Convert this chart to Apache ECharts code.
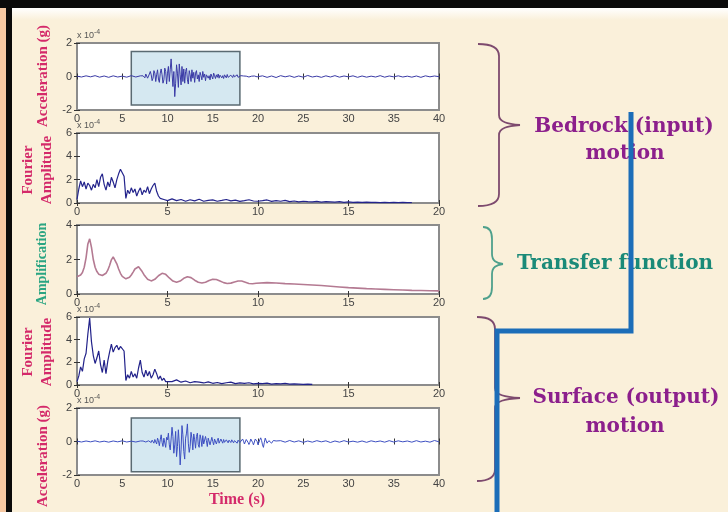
<!DOCTYPE html>
<html><head><meta charset="utf-8">
<script src="https://cdn.jsdelivr.net/npm/echarts@6/dist/echarts.min.js"></script>
<style>html,body{margin:0;padding:0;background:#faf0da}#c{width:728px;height:512px}</style>
</head><body><div id="c"></div><script>
// ---- Bedrock (input) acceleration, x1e-4 g ----
const rockAccPre = [0.02,-0.03,0.04,-0.02,0.05,-0.04,0.03,-0.05,0.04,-0.03,0.02,-0.04,0.05,-0.03,0.04]; // t = 0..7, step 0.5
const rockAccStrong = [ // t = 7.1..20.0, step 0.1
  0.02,-0.05,0.04,0.1,-0.08,0.15,0.25,-0.1,-0.2,0.15,
  0.3,0.1,-0.25,-0.1,0.35,0.2,-0.3,0.1,0.4,-0.15,
  -0.35,0.2,0.45,0.1,-0.4,-0.2,0.5,0.3,-0.45,0.2,
  0.6,-0.3,0.4,1.05,0.2,-0.6,0.3,-1.2,-0.4,0.7,
  0.2,-0.65,0.75,0.1,-0.5,0.6,-0.3,0.45,-0.4,0.3,
  0.5,-0.2,-0.45,0.35,0.1,-0.3,0.4,-0.1,0.25,-0.35,
  0.2,0.35,-0.15,0.1,-0.3,0.25,0.05,-0.2,0.3,-0.05,
  0.15,-0.25,0.1,0.2,-0.1,0.05,-0.2,0.15,0.1,-0.15,
  0.2,0.05,-0.12,0.1,-0.05,0.15,-0.1,0.08,0.12,-0.08,
  0.05,-0.12,0.1,0.02,-0.08,0.12,-0.05,0.06,-0.1,0.08,
  0.04,-0.06,0.1,-0.02,-0.08,0.06,0.1,-0.05,0.03,-0.06,
  0.05,0.08,-0.04,0.03,-0.07,0.05,0.02,-0.05,0.06,-0.03,
  0.04,-0.05,0.02,0.06,-0.04,0.03,-0.05,0.04,-0.02,0.03];
const rockAccTail = [ // t = 20.5..40, step 0.5
  0.04,-0.05,0.03,-0.06,0.05,-0.02,0.04,-0.05,0.03,-0.04,
  0.06,-0.03,0.02,-0.05,0.04,-0.03,0.05,-0.04,0.03,-0.02,
  0.04,-0.05,0.03,-0.04,0.02,-0.03,0.05,-0.04,0.03,-0.02,
  0.04,-0.03,0.02,-0.04,0.03,-0.05,0.04,-0.02,0.03,-0.01];

// ---- Bedrock Fourier amplitude, x1e-4 ----
const rockFALow = [ // f = 0..5 Hz, step 0.1
  0.3,1.2,1.9,1.4,1.8,1.2,1.7,1.5,1.1,1.6,
  1.3,2.0,1.4,2.2,2.5,1.6,1.1,1.8,1.4,2.2,
  1.8,1.3,2.0,2.5,2.9,2.6,2.3,0.4,1.1,0.8,
  1.3,0.9,1.2,0.6,1.0,1.3,0.7,1.1,0.9,1.4,
  0.8,1.2,1.5,1.7,1.0,0.6,0.4,0.5,0.3,0.35,0.2];
const rockFAHigh = [ // f = 5.25..18.5 Hz, step 0.25
  0.35,0.2,0.3,0.15,0.28,0.18,0.32,0.15,0.22,0.27,
  0.15,0.22,0.3,0.18,0.25,0.14,0.2,0.28,0.17,0.15,
  0.2,0.26,0.14,0.2,0.15,0.22,0.12,0.17,0.1,0.15,
  0.12,0.1,0.14,0.08,0.12,0.1,0.08,0.11,0.06,0.09,
  0.06,0.08,0.05,0.07,0.05,0.06,0.04,0.06,0.04,0.05,
  0.03,0.05,0.03,0.04];

// ---- Transfer function (amplification) ----
const ampLow = [ // f = 0..10 Hz, step 0.1
  1.0,1.02,1.1,1.25,1.55,2.1,2.9,3.2,2.7,2.0,
  1.55,1.3,1.15,1.08,1.07,1.1,1.2,1.38,1.65,1.98,
  2.15,2.05,1.75,1.45,1.2,1.02,0.92,0.88,0.9,0.97,
  1.1,1.27,1.45,1.56,1.58,1.48,1.3,1.12,0.98,0.86,
  0.79,0.76,0.78,0.85,0.95,1.06,1.15,1.2,1.2,1.14,
  1.04,0.93,0.83,0.75,0.7,0.68,0.7,0.75,0.83,0.91,
  0.97,1.0,0.99,0.95,0.88,0.8,0.73,0.68,0.65,0.64,
  0.65,0.68,0.73,0.78,0.82,0.85,0.86,0.84,0.8,0.75,
  0.7,0.66,0.63,0.61,0.61,0.63,0.66,0.7,0.73,0.75,
  0.76,0.75,0.72,0.68,0.64,0.61,0.59,0.59,0.6,0.62,0.64];
const ampHigh = [ // f = 10.5..20 Hz, step 0.5
  0.66,0.64,0.6,0.58,0.55,0.52,0.49,0.45,0.41,0.37,
  0.34,0.31,0.29,0.27,0.25,0.23,0.21,0.2,0.19,0.18];

// ---- Surface Fourier amplitude, x1e-4 ----
const surfFALow = [ // f = 0..5 Hz, step 0.1
  0.3,0.8,1.6,1.2,2.3,2.8,4.5,5.9,3.8,2.6,
  1.9,2.4,3.0,1.8,1.1,2.2,1.0,2.1,2.9,3.6,
  2.9,3.3,3.5,3.1,3.4,3.3,3.0,0.4,0.9,0.6,
  1.2,0.7,1.0,0.6,1.5,2.2,1.1,0.7,1.3,0.8,
  1.2,0.6,0.9,1.4,1.0,0.5,0.8,0.4,0.6,0.3,0.4];
const surfFAHigh = [ // f = 5.25..13 Hz, step 0.25
  0.3,0.45,0.25,0.35,0.2,0.3,0.25,0.18,0.28,0.15,
  0.22,0.12,0.2,0.25,0.12,0.18,0.14,0.2,0.1,0.15,
  0.12,0.16,0.08,0.12,0.1,0.14,0.07,0.1,0.08,0.06,
  0.08,0.05];

// ---- Surface (output) acceleration, x1e-4 g ----
const surfAccPre = [0.02,-0.03,0.03,-0.02,0.04,-0.03,0.02,-0.04,0.03,-0.02,0.04,-0.03,0.02,-0.03,0.03]; // t = 0..7, step 0.5
const surfAccStrong = [ // t = 7.1..22.0, step 0.1
  0.02,-0.02,0.03,-0.03,0.02,-0.03,0.03,-0.02,0.04,-0.03,
  0.05,-0.06,0.08,0.02,-0.1,0.12,0.05,-0.15,0.2,0.05,
  -0.25,0.1,0.4,-0.05,-0.3,0.2,0.1,-0.35,0.25,0.1,
  0.5,-0.2,-0.5,0.15,0.85,0.3,-0.7,-0.2,0.6,-0.9,
  -0.3,0.7,-0.1,-1.4,-0.5,0.95,0.4,-0.6,-1.05,0.2,
  0.5,1.05,-0.1,-0.65,-0.3,0.55,0.2,-0.5,0.45,0.1,
  -0.4,0.3,0.5,-0.2,-0.35,0.4,0.15,-0.3,0.35,-0.15,
  -0.25,0.3,0.05,-0.3,0.2,0.25,-0.2,-0.1,0.25,0.0,
  -0.2,0.15,0.1,-0.15,0.05,0.2,-0.1,-0.12,0.15,0.02,
  -0.1,0.12,-0.05,-0.1,0.1,0.04,-0.08,0.08,-0.02,-0.06,
  0.1,0.02,-0.08,0.05,0.12,-0.05,-0.1,0.08,0.1,-0.06,
  -0.12,0.05,0.15,0.02,-0.15,-0.05,0.12,0.15,-0.05,-0.18,
  -0.05,0.15,0.2,-0.05,-0.2,-0.1,0.15,0.2,0.0,-0.2,
  -0.15,0.1,0.22,0.05,-0.2,-0.35,-0.05,0.2,0.12,-0.1,
  -0.15,0.05,0.12,0.0,-0.1,-0.05,0.06,0.04,-0.04,0.03];
const surfAccTail = [ // t = 22.5..40, step 0.5
  0.05,-0.04,0.06,-0.03,0.04,-0.05,0.03,-0.04,0.05,-0.02,
  0.04,-0.06,0.03,-0.04,0.05,-0.03,0.02,-0.04,0.03,-0.05,
  0.04,-0.02,0.03,-0.04,0.05,-0.03,0.04,-0.02,0.03,-0.04,
  0.05,-0.03,0.02,-0.04,0.06,-0.02];

// Strong-motion windows: [tStart, tEnd, aLow, aHigh]
const rockWindow = [6, 18, -1.7, 1.5];
const surfWindow = [6, 18, -1.8, 1.4];

const yNames = ['Acceleration (g)', 'Fourier\nAmplitude', 'Amplification', 'Fourier\nAmplitude', 'Acceleration (g)'];

function pairs(t0, dt, vals) {
  return vals.map((v, i) => [+(t0 + i * dt).toFixed(2), v]);
}
const rockAcc = [...pairs(0, 0.5, rockAccPre), ...pairs(7.1, 0.1, rockAccStrong), ...pairs(20.5, 0.5, rockAccTail)];
const rockFA = [...pairs(0, 0.1, rockFALow), ...pairs(5.25, 0.25, rockFAHigh)];
const amp = [...pairs(0, 0.1, ampLow), ...pairs(10.5, 0.5, ampHigh)];
const surfFA = [...pairs(0, 0.1, surfFALow), ...pairs(5.25, 0.25, surfFAHigh)];
const surfAcc = [...pairs(0, 0.5, surfAccPre), ...pairs(7.1, 0.1, surfAccStrong), ...pairs(22.5, 0.5, surfAccTail)];

// Panel layout (pixels) and axis ranges
const panels = [
  { top: 43,  height: 67, xMax: 40, yMin: -2, yMax: 2, exp: true },
  { top: 133, height: 70, xMax: 20, yMin: 0,  yMax: 6, exp: true },
  { top: 225, height: 69, xMax: 20, yMin: 0,  yMax: 4, exp: false },
  { top: 317, height: 68, xMax: 20, yMin: 0,  yMax: 6, exp: true },
  { top: 408, height: 67, xMax: 40, yMin: -2, yMax: 2, exp: true }
];

const tickStyle = { show: true, inside: true, length: 3, lineStyle: { color: '#333', width: 1 } };
const labelStyle = { color: '#444', fontSize: 11, fontFamily: 'Liberation Sans' };

const grid = [], xAxis = [], yAxis = [];
panels.forEach((p, i) => {
  grid.push({ left: 77, width: 362, top: p.top, height: p.height, show: true,
    backgroundColor: '#ffffff', borderColor: '#8c8c8c', borderWidth: 2 });
  xAxis.push({ gridIndex: i, type: 'value', min: 0, max: p.xMax, interval: 5, position: 'bottom',
    axisLine: { show: false }, axisTick: tickStyle, splitLine: { show: false },
    axisLabel: Object.assign({ margin: 3 }, labelStyle) });
  xAxis.push({ gridIndex: i, type: 'value', min: 0, max: p.xMax, interval: 5, position: 'top',
    axisLine: { show: false }, axisTick: tickStyle, splitLine: { show: false }, axisLabel: { show: false } });
  yAxis.push({ gridIndex: i, type: 'value', min: p.yMin, max: p.yMax, interval: 2, position: 'left',
    axisLine: { show: false }, axisTick: tickStyle, splitLine: { show: false },
    axisLabel: Object.assign({ margin: 5 }, labelStyle),
    name: p.exp ? '{x|x 10}{e|-4}' : '', nameLocation: 'end', nameGap: 1,
    nameTextStyle: { align: 'left', verticalAlign: 'bottom',
      rich: { x: { fontSize: 9, color: '#555', fontFamily: 'Liberation Sans' },
              e: { fontSize: 7, color: '#555', fontFamily: 'Liberation Sans', padding: [0, 0, 6, 0] } } } });
  yAxis.push({ gridIndex: i, type: 'value', min: p.yMin, max: p.yMax, interval: 2, position: 'right',
    axisLine: { show: false }, axisTick: tickStyle, splitLine: { show: false }, axisLabel: { show: false } });
});

function windowArea(w) {
  return { silent: true,
    itemStyle: { color: '#d5e8f1', borderColor: '#5a6a72', borderWidth: 1.5 },
    data: [[{ coord: [w[0], w[3]] }, { coord: [w[1], w[2]] }]] };
}

const lineSeries = (idx, data, color, width, extra) => Object.assign({
  type: 'line', xAxisIndex: idx * 2, yAxisIndex: idx * 2, data: data, showSymbol: false,
  lineStyle: { color: color, width: width }, animation: false, z: 3
}, extra || {});

const series = [
  lineSeries(0, rockAcc, '#3a3aa6', 1, { markArea: windowArea(rockWindow) }),
  lineSeries(1, rockFA, '#24248c', 1.2),
  lineSeries(2, amp, '#b47a92', 1.6),
  lineSeries(3, surfFA, '#22228a', 1.2),
  lineSeries(4, surfAcc, '#3d4fc2', 1, { markArea: windowArea(surfWindow) })
];

const serif = '"Liberation Serif", "Times New Roman", serif';
const pink = '#d42a6a';
const vText = (x, y, text, color, size) => ({
  type: 'text', x: x, y: y, rotation: Math.PI / 2, z: 10,
  style: { text: text, fill: color, font: 'bold ' + size + 'px ' + serif, lineHeight: 19,
    textAlign: 'center', textVerticalAlign: 'middle', align: 'center', verticalAlign: 'middle' }
});
const hText = (x, y, text, color, font) => ({
  type: 'text', x: x, y: y, z: 10,
  style: { text: text, fill: color, font: font,
    textAlign: 'center', textVerticalAlign: 'middle', align: 'center', verticalAlign: 'middle' }
});
const bigFont = 'bold 20px "DejaVu Serif", serif';

// Curly brace built from bezier curves and straight lines:
// xe = outer hook end, xs = spine, xt = tip, y0/yt/y1 = top/tip/bottom
function brace(xe, xs, xt, y0, yt, y1, color) {
  const r = 12, q = 10;
  const st = { stroke: color, lineWidth: 1.8, fill: null };
  const curve = (a, c1, c2, b) => ({ type: 'bezierCurve', z: 5, style: st,
    shape: { x1: a[0], y1: a[1], cpx1: c1[0], cpy1: c1[1], cpx2: c2[0], cpy2: c2[1], x2: b[0], y2: b[1] } });
  const line = (a, b) => ({ type: 'line', z: 5, style: st, shape: { x1: a[0], y1: a[1], x2: b[0], y2: b[1] } });
  return [
    curve([xe, y0], [xe + (xs - xe) * 0.7, y0], [xs, y0 + 4], [xs, y0 + r]),
    line([xs, y0 + r], [xs, yt - q]),
    curve([xs, yt - q], [xs, yt - 3], [xs + (xt - xs) * 0.4, yt - 1], [xt, yt]),
    curve([xt, yt], [xs + (xt - xs) * 0.4, yt + 1], [xs, yt + 3], [xs, yt + q]),
    line([xs, yt + q], [xs, y1 - r]),
    curve([xs, y1 - r], [xs, y1 - 4], [xe + (xs - xe) * 0.7, y1], [xe, y1])
  ];
}

const graphic = [
  // page frame
  { type: 'rect', z: 1, shape: { x: 0, y: 0, width: 728, height: 8 }, style: { fill: '#0a0a0a' } },
  { type: 'rect', z: 1, shape: { x: 0, y: 8, width: 728, height: 12 },
    style: { fill: new echarts.graphic.LinearGradient(0, 0, 0, 1,
      [{ offset: 0, color: '#ffffff' }, { offset: 1, color: '#faf0da' }]) } },
  { type: 'rect', z: 1, shape: { x: 0, y: 0, width: 6, height: 512 }, style: { fill: '#f6c8a2' } },
  { type: 'rect', z: 2, shape: { x: 6, y: 0, width: 6, height: 512 }, style: { fill: '#0a0a0a' } },
  { type: 'rect', z: 2, shape: { x: 0, y: 0, width: 12, height: 8 }, style: { fill: '#0a0a0a' } },

  // axis titles
  vText(43, 76, yNames[0], pink, 15),
  vText(38, 170, yNames[1], pink, 15),
  vText(42, 264, yNames[2], '#2aa582', 14),
  vText(38, 352, yNames[3], pink, 15),
  vText(43, 456, yNames[4], pink, 15),
  hText(237, 500, 'Time (s)', pink, 'bold 16px ' + serif),

  // braces
  ...brace(478, 499, 520, 44, 125, 206, '#7d4a6e'),
  ...brace(483, 492, 503, 227, 264, 299, '#4ea08c'),
  ...brace(477, 495, 520, 317, 398, 481, '#7d4a6e'),

  // annotations
  hText(624, 127, 'Bedrock (input)', '#8c1f8c', bigFont),
  hText(625, 154, 'motion', '#8c1f8c', bigFont),
  hText(615, 264, 'Transfer function', '#1a8a78', bigFont),
  hText(626, 398, 'Surface (output)', '#8c1f8c', bigFont),
  hText(625, 427, 'motion', '#8c1f8c', bigFont),

  // wave path line
  { type: 'polyline', z: 20, shape: { points: [[631, 112], [631, 331], [497, 331], [497, 512]] },
    style: { stroke: '#1b6db8', lineWidth: 5, fill: null, lineJoin: 'miter' } }
];

const chart = echarts.init(document.getElementById('c'), null, { renderer: 'canvas' });
chart.setOption({
  backgroundColor: '#faf0da',
  animation: false,
  grid: grid, xAxis: xAxis, yAxis: yAxis, series: series, graphic: graphic
});
</script></body></html>
